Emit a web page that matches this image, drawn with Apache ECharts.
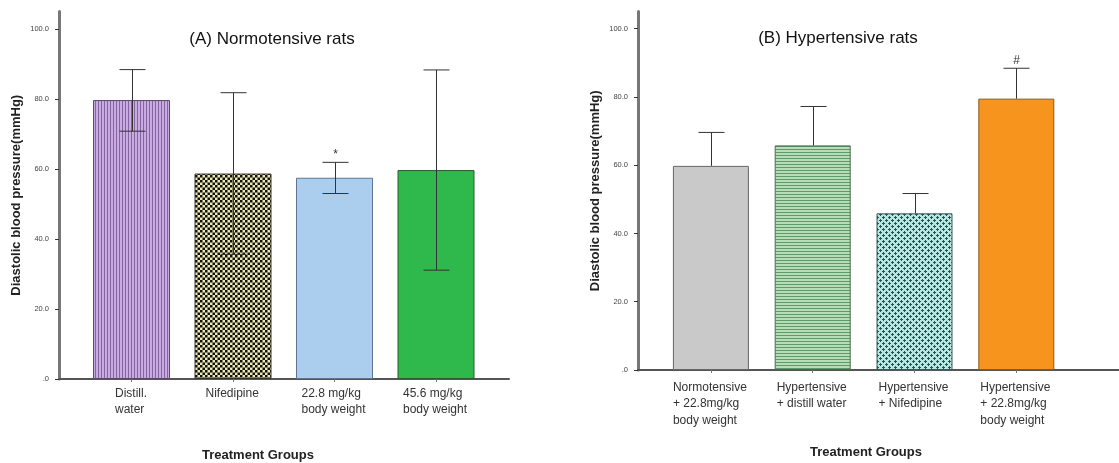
<!DOCTYPE html>
<html>
<head>
<meta charset="utf-8">
<script src="https://cdn.jsdelivr.net/npm/echarts@6/dist/echarts.min.js"></script>
<style>
  html, body { margin: 0; background: #fff; }
  #chart { width: 1119px; height: 463px; }
</style>
</head>
<body>
<div id="chart"></div>
<script>
// Panel A - normotensive rats
const groupsA = ['Distill.\nwater', 'Nifedipine', '22.8 mg/kg\nbody weight', '45.6 mg/kg\nbody weight'];
const meansA = [79.7, 58.7, 57.5, 59.7];
const lowA = [70.8, 35.6, 53.0, 31.1];
const highA = [88.4, 81.8, 61.9, 88.3];
const marksA = ['', '', '*', ''];

// Panel B - hypertensive rats (only upper whiskers drawn)
const groupsB = ['Normotensive\n+ 22.8mg/kg\nbody weight', 'Hypertensive\n+ distill water', 'Hypertensive\n+ Nifedipine', 'Hypertensive\n+ 22.8mg/kg\nbody weight'];
const meansB = [59.8, 65.8, 45.9, 79.5];
const highB = [69.6, 77.2, 51.7, 88.4];
const marksB = ['', '', '', '#'];

const yTicks = [0, 20, 40, 60, 80, 100];

const FONT = '"Liberation Sans", Arial, sans-serif';

// small canvas tiles for the SPSS-like fill patterns
function tile(w, h, draw) {
    const c = document.createElement('canvas');
    c.width = w; c.height = h;
    draw(c.getContext('2d'));
    return { image: c, repeat: 'repeat' };
}

const purpleStripes = tile(3, 4, ctx => {
    ctx.fillStyle = '#c9abe4'; ctx.fillRect(0, 0, 3, 4);
    ctx.fillStyle = '#85649f'; ctx.fillRect(2, 0, 1, 4);
});
const checker = tile(5, 5, ctx => {
    ctx.fillStyle = '#eeebb2'; ctx.fillRect(0, 0, 5, 5);
    ctx.fillStyle = '#111'; ctx.fillRect(0, 0, 2.5, 2.5); ctx.fillRect(2.5, 2.5, 2.5, 2.5);
});
const greenStripes = tile(4, 3, ctx => {
    ctx.fillStyle = '#b6ddb6'; ctx.fillRect(0, 0, 4, 3);
    ctx.fillStyle = '#5f9a6c'; ctx.fillRect(0, 2, 4, 1);
});
const cyanPlus = tile(6, 6, ctx => {
    ctx.fillStyle = '#b9e6e1'; ctx.fillRect(0, 0, 6, 6);
    ctx.fillStyle = '#1f5754';
    [[1, 1], [4, 4]].forEach(([x, y]) => {
        ctx.fillRect(x - 1, y, 3, 1);
        ctx.fillRect(x, y - 1, 1, 3);
    });
});

const stylesA = [
    { color: purpleStripes, borderColor: '#5a4a66', borderWidth: 1 },
    { color: checker, borderColor: '#333', borderWidth: 1 },
    { color: '#abcdee', borderColor: '#5d7590', borderWidth: 1 },
    { color: '#2fb84b', borderColor: '#2d5a33', borderWidth: 1 }
];
const stylesB = [
    { color: '#c9c9c9', borderColor: '#666', borderWidth: 1 },
    { color: greenStripes, borderColor: '#4a6a50', borderWidth: 1 },
    { color: cyanPlus, borderColor: '#3a5a5a', borderWidth: 1 },
    { color: '#f7941e', borderColor: '#8a5a20', borderWidth: 1 }
];

// multi-line category labels: lines left-aligned inside a centred block
const measure = document.createElement('canvas').getContext('2d');
function leftBlockLabel(groups, lineHeight, margin) {
    measure.font = '12px ' + FONT;
    const rich = {};
    groups.forEach((g, i) => {
        const w = Math.max(...g.split('\n').map(s => measure.measureText(s).width));
        rich['c' + i] = { width: Math.ceil(w) + 1, align: 'left', fontSize: 12, fontFamily: FONT, color: '#333', lineHeight };
    });
    return {
        interval: 0, margin, rich,
        formatter: (v, i) => v.split('\n').map(s => `{c${i}|${s}}`).join('\n')
    };
}

function frameAxes(gridIndex) {
    return {
        x: {
            type: 'value', gridIndex, min: 0, max: 1,
            axisLine: { show: true, onZero: false, lineStyle: { color: '#555', width: 2 } },
            axisTick: { show: false }, axisLabel: { show: false }, splitLine: { show: false }
        },
        y: {
            type: 'value', gridIndex, min: 0, max: 105,
            name: 'Diastolic blood pressure(mmHg)', nameLocation: 'middle', nameGap: 36,
            nameTextStyle: { fontFamily: FONT, fontWeight: 'bold', fontSize: 13, color: '#222' },
            axisLine: { show: true, onZero: false, lineStyle: { color: '#777', width: 3 } },
            axisTick: { show: true, length: 4, customValues: yTicks, lineStyle: { color: '#333' } },
            axisLabel: {
                customValues: yTicks, margin: 10, fontSize: 7.5, fontFamily: FONT, color: '#444',
                formatter: v => v === 0 ? '.0' : v.toFixed(1)
            },
            splitLine: { show: false }
        }
    };
}

function barAxes(gridIndex, groups, lineHeight, margin) {
    return {
        x: {
            type: 'category', gridIndex, data: groups,
            axisLine: { show: false },
            axisTick: { show: true, alignWithLabel: true, length: 3, lineStyle: { color: '#777' } },
            axisLabel: leftBlockLabel(groups, lineHeight, margin)
        },
        y: { type: 'value', gridIndex, min: 0, max: 105, show: false }
    };
}

function errorSeries(axisIndex, means, lows, highs, marks) {
    return {
        type: 'custom', xAxisIndex: axisIndex, yAxisIndex: axisIndex, z: 5,
        data: means.map((m, i) => [i, m, lows ? lows[i] : m, highs[i]]),
        renderItem: (params, api) => {
            const i = params.dataIndex;
            const top = api.coord([api.value(0), api.value(3)]);
            const bot = api.coord([api.value(0), api.value(2)]);
            const x = Math.round(top[0]) + 0.5, cap = 13;
            const ls = { stroke: '#333', lineWidth: 1 };
            const kids = [
                { type: 'line', shape: { x1: x, y1: top[1], x2: x, y2: bot[1] }, style: ls },
                { type: 'line', shape: { x1: x - cap, y1: top[1], x2: x + cap, y2: top[1] }, style: ls }
            ];
            if (lows) {
                kids.push({ type: 'line', shape: { x1: x - cap, y1: bot[1], x2: x + cap, y2: bot[1] }, style: ls });
            }
            if (marks[i]) {
                kids.push({
                    type: 'text', x: x, y: top[1] - 2,
                    style: { text: marks[i], align: 'center', verticalAlign: 'bottom', fontSize: 12, fontFamily: FONT, fill: '#333' }
                });
            }
            return { type: 'group', children: kids };
        }
    };
}

const fA = frameAxes(0), bA = barAxes(1, groupsA, 16, 7);
const fB = frameAxes(2), bB = barAxes(3, groupsB, 16.5, 9);

const chart = echarts.init(document.getElementById('chart'));
chart.setOption({
    animation: false,
    backgroundColor: '#fff',
    grid: [
        { left: 59, top: 11.5, width: 450, height: 367.5 },
        { left: 80.75, top: 11.5, width: 406, height: 367.5 },
        { left: 638, top: 11.6, width: 481, height: 358.4 },
        { left: 660, top: 11.6, width: 407.2, height: 358.4 }
    ],
    xAxis: [fA.x, bA.x, fB.x, bB.x],
    yAxis: [fA.y, bA.y, fB.y, bB.y],
    graphic: [
        { type: 'text', x: 272, y: 39, style: { text: '(A) Normotensive rats', align: 'center', verticalAlign: 'middle', fontSize: 17, fontFamily: FONT, fill: '#111' } },
        { type: 'text', x: 838, y: 38, style: { text: '(B) Hypertensive rats', align: 'center', verticalAlign: 'middle', fontSize: 17, fontFamily: FONT, fill: '#111' } },
        { type: 'text', x: 258, y: 455, style: { text: 'Treatment Groups', align: 'center', verticalAlign: 'middle', fontSize: 13, fontWeight: 'bold', fontFamily: FONT, fill: '#222' } },
        { type: 'text', x: 866, y: 452, style: { text: 'Treatment Groups', align: 'center', verticalAlign: 'middle', fontSize: 13, fontWeight: 'bold', fontFamily: FONT, fill: '#222' } }
    ],
    series: [
        {
            type: 'bar', xAxisIndex: 1, yAxisIndex: 1, barWidth: 77,
            data: meansA.map((v, i) => ({ value: v, itemStyle: stylesA[i] }))
        },
        errorSeries(1, meansA, lowA, highA, marksA),
        {
            type: 'bar', xAxisIndex: 3, yAxisIndex: 3, barWidth: 76,
            data: meansB.map((v, i) => ({ value: v, itemStyle: stylesB[i] }))
        },
        errorSeries(3, meansB, null, highB, marksB)
    ]
});
</script>
</body>
</html>
